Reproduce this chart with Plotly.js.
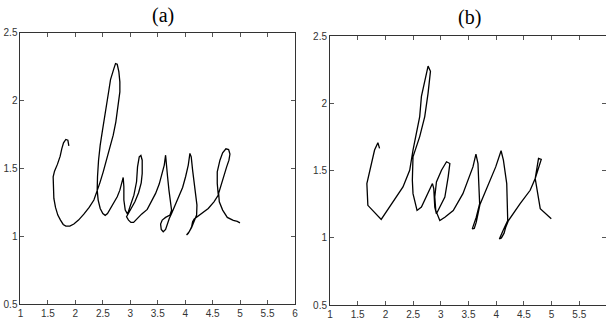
<!DOCTYPE html>
<html>
<head>
<meta charset="utf-8">
<script src="https://cdn.plot.ly/plotly-3.0.1.min.js"></script>
<style>html,body{margin:0;padding:0;background:#fff;}#chart{width:606px;height:323px;}</style>
</head>
<body>
<div id="chart"></div>
<script>
// Panel (a): original handwriting trajectory
const aX = [1.881,1.863,1.826,1.784,1.753,1.723,1.674,1.620,1.595,1.595,1.608,1.638,1.680,1.729,1.778,1.826,1.899,1.972,2.057,2.154,2.251,2.337,2.403,
  2.446,2.507,2.567,2.628,2.689,2.737,2.768,2.792,2.810,2.810,2.792,2.762,2.731,2.701,2.671,2.640,2.610,2.573,2.537,2.494,2.452,2.422,2.403,2.397,2.415,2.452,2.500,2.543,2.585,2.634,2.683,2.719,2.762,2.810,2.847,2.871,
  2.883,2.883,2.908,2.950,3.005,3.066,3.114,3.132,3.163,3.193,3.217,3.217,3.199,3.151,3.084,3.011,2.932,2.968,3.011,3.060,3.114,3.205,3.309,3.388,3.461,3.527,3.582,3.619,3.643,
  3.661,3.679,3.704,3.734,3.752,3.722,3.643,3.582,3.552,3.564,3.600,3.643,3.673,3.710,3.752,3.813,3.886,3.953,4.007,4.056,4.086,4.110,4.135,4.165,4.195,4.214,4.208,4.165,4.117,4.056,4.025,4.074,4.117,4.135,4.165,4.220,4.317,4.420,4.524,4.603,
  4.584,4.584,4.633,4.682,4.742,4.791,4.815,4.797,4.755,4.706,4.645,4.609,4.621,4.682,4.767,4.876,4.949,4.998];
const aY = [1.667,1.709,1.714,1.689,1.647,1.591,1.532,1.480,1.439,1.365,1.279,1.213,1.156,1.119,1.087,1.075,1.075,1.090,1.119,1.163,1.213,1.267,1.335,
  1.394,1.475,1.561,1.647,1.746,1.844,1.942,2.028,2.065,2.139,2.213,2.269,2.274,2.237,2.188,2.156,2.077,1.991,1.893,1.783,1.672,1.561,1.439,1.340,1.267,1.205,1.168,1.154,1.168,1.205,1.242,1.267,1.291,1.340,1.389,1.434,
  1.365,1.267,1.193,1.163,1.230,1.303,1.402,1.512,1.586,1.596,1.561,1.463,1.394,1.321,1.254,1.205,1.144,1.119,1.102,1.102,1.127,1.163,1.198,1.254,1.316,1.385,1.458,1.525,1.598,
  1.537,1.439,1.340,1.254,1.193,1.156,1.139,1.119,1.090,1.050,1.033,1.050,1.090,1.131,1.168,1.230,1.291,1.360,1.439,1.525,1.611,1.586,1.488,1.389,1.303,1.230,1.156,1.107,1.065,1.021,1.009,1.033,1.070,1.107,1.127,1.144,1.168,1.205,1.254,1.303,
  1.389,1.475,1.561,1.615,1.645,1.640,1.606,1.561,1.512,1.451,1.377,1.316,1.254,1.193,1.139,1.117,1.109,1.099];

// Panel (b): reconstructed trajectory
const bX = [1.894,1.864,1.804,1.683,1.665,1.683,1.924,2.317,2.438,2.498,2.619,2.650,2.770,2.813,2.770,2.710,2.619,2.498,2.486,2.498,2.571,2.650,2.770,2.849,2.873,2.891,2.921,
  2.982,3.073,3.133,3.163,3.103,3.012,2.921,2.891,2.909,2.982,3.073,3.224,3.399,3.580,3.634,3.671,3.683,3.701,3.640,3.568,3.604,3.640,3.707,3.882,3.991,4.088,
  4.130,4.190,4.208,4.208,4.124,4.057,4.094,4.142,4.172,4.221,4.432,4.613,4.704,4.764,4.813,4.728,4.704,4.795,4.994];
const bY = [1.665,1.707,1.652,1.453,1.403,1.241,1.136,1.378,1.502,1.652,1.901,2.051,2.276,2.238,2.076,1.901,1.752,1.602,1.428,1.328,1.203,1.228,1.328,1.403,1.365,1.228,1.178,
  1.228,1.303,1.453,1.552,1.565,1.502,1.415,1.303,1.203,1.128,1.153,1.203,1.328,1.527,1.622,1.552,1.428,1.253,1.153,1.066,1.069,1.116,1.248,1.415,1.527,1.647,
  1.577,1.403,1.228,1.128,1.054,0.991,0.999,1.034,1.079,1.128,1.253,1.353,1.440,1.590,1.582,1.478,1.440,1.216,1.141];

const xTicks = [1,1.5,2,2.5,3,3.5,4,4.5,5,5.5,6];
const xTickText = ['1','1.5','2','2.5','3','3.5','4','4.5','5','5.5','6'];
const yTicks = [0.5,1,1.5,2,2.5];
const yTickText = ['0.5','1','1.5','2','2.5'];
const panelTitles = ['(a)','(b)'];

const lineStyle = {color:'#000', width:1.3};
const traces = [
  {x:aX, y:aY, type:'scatter', mode:'lines', line:lineStyle, xaxis:'x', yaxis:'y', hoverinfo:'skip'},
  {x:bX, y:bY, type:'scatter', mode:'lines', line:lineStyle, xaxis:'x2', yaxis:'y2', hoverinfo:'skip'}
];

const tickFont = {family:'"Liberation Sans Narrow", "Arial Narrow", "Liberation Sans", sans-serif', size:10, color:'#333'};
function axis(extra){
  return Object.assign({
    showgrid:false, zeroline:false, showline:true, linecolor:'#333', linewidth:1,
    mirror:'ticks', ticks:'inside', ticklen:4, tickcolor:'#555', tickwidth:1,
    tickfont:tickFont, fixedrange:true
  }, extra);
}

const layout = {
  width:606, height:323,
  margin:{l:0, r:0, t:0, b:0, pad:0},
  paper_bgcolor:'#fff', plot_bgcolor:'#fff',
  showlegend:false,
  xaxis: axis({domain:[0.0338,0.4868], range:[1,6], tickvals:xTicks, ticktext:xTickText, anchor:'y'}),
  yaxis: axis({domain:[0.0588,0.898], range:[0.5,2.5], tickvals:yTicks, ticktext:yTickText, anchor:'x'}),
  xaxis2: axis({domain:[0.5446,1], range:[1,5.982], tickvals:xTicks, ticktext:xTickText, anchor:'y2'}),
  yaxis2: axis({domain:[0.0557,0.8885], range:[0.5,2.5], tickvals:yTicks, ticktext:yTickText, anchor:'x2'}),
  annotations:[
    {text:panelTitles[0], xref:'paper', yref:'paper', x:0.2695, y:0.952, xanchor:'center', yanchor:'middle', showarrow:false,
     font:{family:'"Liberation Serif", "Times New Roman", serif', size:20, color:'#000'}},
    {text:panelTitles[1], xref:'paper', yref:'paper', x:0.775, y:0.945, xanchor:'center', yanchor:'middle', showarrow:false,
     font:{family:'"Liberation Serif", "Times New Roman", serif', size:20, color:'#000'}}
  ]
};

Plotly.newPlot('chart', traces, layout, {staticPlot:true, displayModeBar:false});
</script>
</body>
</html>
